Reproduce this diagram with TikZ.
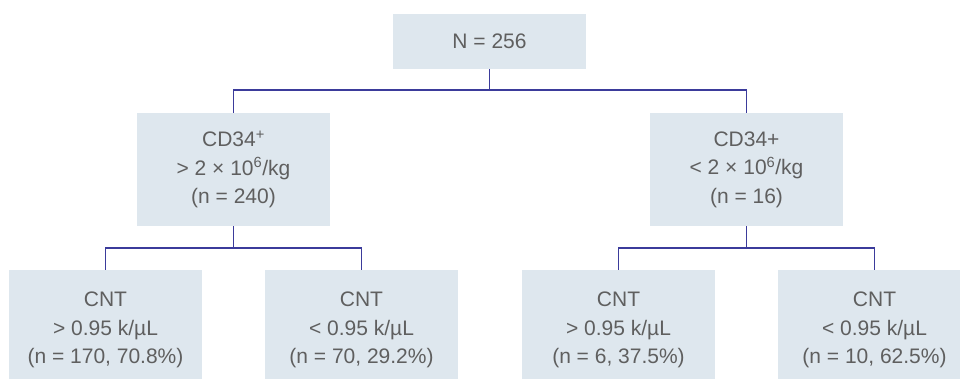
\documentclass[tikz,border=0pt]{standalone}
\usepackage{fontspec}
\setmainfont{Liberation Sans}
\definecolor{boxfill}{HTML}{DEE7EE}
\definecolor{txt}{HTML}{5F5F5F}
\definecolor{conn}{HTML}{3B3B9B}
\begin{document}
\begin{tikzpicture}[x=1pt,y=-1pt,
  box/.style={rectangle, fill=boxfill, draw=none, text=txt, align=center,
    minimum width=193pt, inner sep=0pt,
    font=\fontsize{21}{28.5}\selectfont},
  link/.style={draw=conn, line width=1.5pt}]
\useasboundingbox (0,0) rectangle (960,378);
\clip (0,0) rectangle (960,378);
\node[box, minimum height=55pt] (top) at (489.5,41.5) {N = 256};
\node[box, minimum height=113pt] (midL) at (233.5,169.5) {CD34\textsuperscript{+}\\> 2 × 10\textsuperscript{6}/kg\\(n = 240)};
\node[box, minimum height=113pt] (midR) at (746.5,169.5) {CD34+\\< 2 × 10\textsuperscript{6}/kg\\(n = 16)};
\node[box, minimum height=120pt] (b1) at (105.5,330) {CNT\\> 0.95 k/µL\\(n = 170, 70.8\%)};
\node[box, minimum height=120pt] (b2) at (361.5,330) {CNT\\< 0.95 k/µL\\(n = 70, 29.2\%)};
\node[box, minimum height=120pt] (b3) at (618.5,330) {CNT\\> 0.95 k/µL\\(n = 6, 37.5\%)};
\node[box, minimum height=120pt] (b4) at (874.5,330) {CNT\\< 0.95 k/µL\\(n = 10, 62.5\%)};
\coordinate (j0) at (489.5,90);
\coordinate (jL) at (233.5,248);
\coordinate (jR) at (746.5,248);
\draw[link] (top.south) -- (j0);
\draw[link] (midL.north) |- (j0) -| (midR.north);
\draw[link] (midL.south) -- (jL);
\draw[link] (b1.north) |- (jL) -| (b2.north);
\draw[link] (midR.south) -- (jR);
\draw[link] (b3.north) |- (jR) -| (b4.north);
\end{tikzpicture}
\end{document}
